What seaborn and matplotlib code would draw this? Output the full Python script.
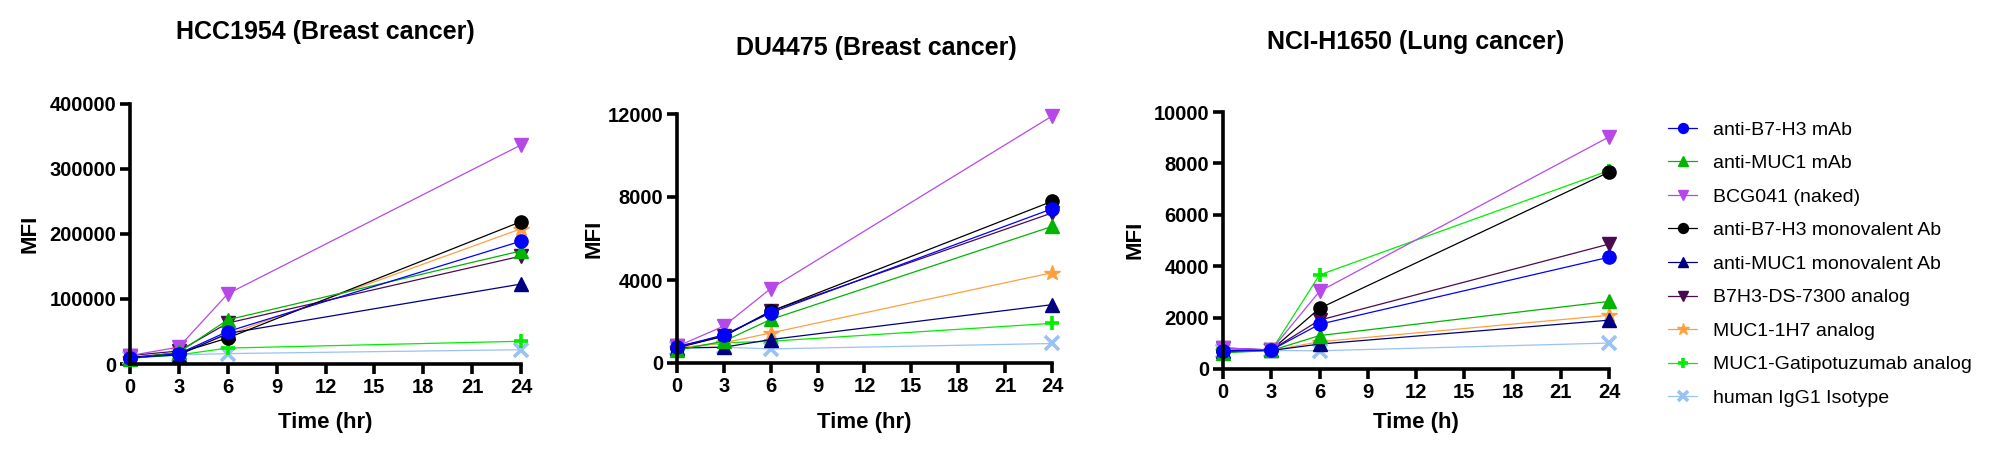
import numpy as np
import pandas as pd
import seaborn as sns
import matplotlib.pyplot as plt

times = [0, 3, 6, 24]

series_names = ['anti-B7-H3 mAb', 'anti-MUC1 mAb', 'BCG041 (naked)',
                'anti-B7-H3 monovalent Ab', 'anti-MUC1 monovalent Ab',
                'B7H3-DS-7300 analog', 'MUC1-1H7 analog',
                'MUC1-Gatipotuzumab analog', 'human IgG1 Isotype']
series_colors = ['#0000FF', '#00B400', '#B748E8', '#000000', '#000080',
                 '#4B0A50', '#FFA040', '#00EE00', '#99C2F5']
series_markers = ['o', '^', 'v', 'o', '^', 'v', '*', '+', 'x']

# MFI per series, order as series_names, times 0/3/6/24 h
hcc1954_mfi = [
    [9000, 16000, 50000, 189000],
    [8000, 18000, 68000, 174000],
    [13000, 26000, 108000, 337000],
    [10000, 17000, 40000, 219000],
    [10000, 14000, 47000, 123000],
    [13000, 20000, 63000, 166000],
    [10000, 17000, 45000, 208000],
    [9000, 14000, 24500, 35000],
    [9000, 14000, 16000, 22000],
]
du4475_mfi = [
    [760, 1360, 2420, 7430],
    [620, 1050, 2100, 6580],
    [800, 1780, 3590, 11900],
    [730, 1290, 2490, 7790],
    [730, 760, 1130, 2810],
    [800, 1300, 2500, 7230],
    [720, 970, 1450, 4350],
    [700, 970, 1050, 1910],
    [700, 760, 680, 940],
]
h1650_mfi = [
    [700, 735, 1740, 4350],
    [630, 720, 1300, 2630],
    [820, 740, 3020, 9030],
    [700, 735, 2360, 7660],
    [700, 720, 970, 1900],
    [820, 740, 1900, 4860],
    [700, 720, 1060, 2090],
    [770, 720, 3660, 7720],
    [700, 720, 710, 1010],
]

panel_titles = ['HCC1954 (Breast cancer)', 'DU4475 (Breast cancer)', 'NCI-H1650 (Lung cancer)']
panel_xlabels = ['Time (hr)', 'Time (hr)', 'Time (h)']
panel_ymax = [400000, 12000, 10000]
panel_ystep = [100000, 4000, 2000]

W, H = 1990, 457
# pixel boxes: left, right, top, bottom(zero line)
boxes = [(130, 521, 104, 364), (677, 1052, 114, 363), (1223, 1609, 112, 369)]
title_pos = [(325, 32), (876, 48), (1416, 42)]
ylabel_pos = [(30, 234), (594, 239), (1135, 240)]

sns.set_style('ticks')
plt.rcParams['font.family'] = ['Liberation Sans', 'DejaVu Sans']
for key in ['text.color', 'axes.labelcolor', 'xtick.color', 'ytick.color', 'axes.edgecolor']:
    plt.rcParams[key] = 'black'

fig = plt.figure(figsize=(W / 100, H / 100), dpi=100)

all_data = [hcc1954_mfi, du4475_mfi, h1650_mfi]
axes = []
for p in range(3):
    l, r, t, b = boxes[p]
    ax = fig.add_axes([l / W, (H - b) / H, (r - l) / W, (b - t) / H])
    axes.append(ax)
    # draw first series last so it sits on top
    for i in reversed(range(len(series_names))):
        df = pd.DataFrame({'Time': times, 'MFI': all_data[p][i]})
        m = series_markers[i]
        ms = 9.5
        mew = 1
        if m == '*':
            ms = 11.5
        if m in ('+', 'x'):
            mew = 2.6
        sns.lineplot(data=df, x='Time', y='MFI', ax=ax, color=series_colors[i],
                     marker=m, markersize=ms, markeredgecolor=series_colors[i],
                     markeredgewidth=mew, linewidth=0.9, label=series_names[i],
                     clip_on=False)
    ax.set_xlim(0, 24)
    ax.set_ylim(0, panel_ymax[p])
    ax.set_xticks(np.arange(0, 25, 3))
    ax.set_yticks(np.arange(0, panel_ymax[p] + 1, panel_ystep[p]))
    ax.set_xlabel('')
    ax.set_ylabel('')
    sns.despine(ax=ax)
    for s in ['left', 'bottom']:
        ax.spines[s].set_linewidth(2.6)
    ax.tick_params(width=2.6, length=7, labelsize=14.5, pad=3)
    for lab in ax.get_xticklabels() + ax.get_yticklabels():
        lab.set_fontweight('bold')
    ax.get_legend().remove()

    tx, ty = title_pos[p]
    fig.text(tx / W, 1 - ty / H, panel_titles[p], ha='center', va='center',
             fontsize=18, fontweight='bold')
    yx, yy = ylabel_pos[p]
    fig.text(yx / W, 1 - yy / H, 'MFI', ha='center', va='center', rotation=90,
             fontsize=16, fontweight='bold')
    fig.text(((l + r) / 2) / W, 1 - 428 / H, panel_xlabels[p], ha='center',
             va='baseline', fontsize=16, fontweight='bold')

handles, labels = axes[0].get_legend_handles_labels()
lookup = dict(zip(labels, handles))
fig.legend([lookup[n] for n in series_names], series_names, loc='upper left',
           bbox_to_anchor=(1668 / W, 1 - 121 / H), frameon=False, fontsize=14,
           handlelength=1.5, handletextpad=0.8, labelspacing=0.82,
           borderpad=0, borderaxespad=0, markerscale=0.75)

fig.savefig('out.png', dpi=100)
